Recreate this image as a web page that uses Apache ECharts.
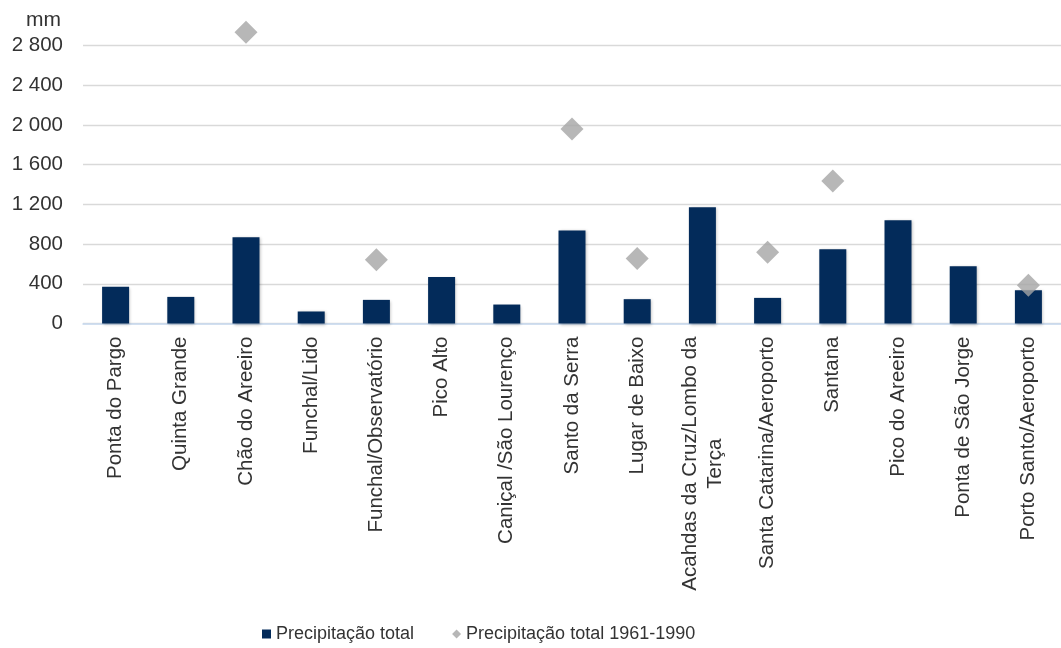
<!DOCTYPE html>
<html>
<head>
<meta charset="utf-8">
<script src="https://cdn.jsdelivr.net/npm/echarts@6/dist/echarts.min.js"></script>
<style>
  html, body { margin: 0; padding: 0; background: #fff; }
  #echarts { width: 1061px; height: 648px; }
</style>
</head>
<body>
<div id="echarts"></div>
<script>
// estações
const categories = [
  'Ponta do Pargo', 'Quinta Grande', 'Chão do Areeiro', 'Funchal/Lido',
  'Funchal/Observatório', 'Pico Alto', 'Caniçal /São Lourenço', 'Santo da Serra',
  'Lugar de Baixo', 'Acahdas da Cruz/Lombo da\nTerça', 'Santa Catarina/Aeroporto',
  'Santana', 'Pico do Areeiro', 'Ponta de São Jorge', 'Porto Santo/Aeroporto'
]
// mm
const precipTotal = [370, 268, 869, 121, 238, 469, 191, 937, 245, 1171, 258, 748, 1040, 577, 335]
const precipNormal = [null, null, 2934, null, 641, null, null, 1960, 655, null, 718, 1436, null, null, 386]
const yTicks = [0, 400, 800, 1200, 1600, 2000, 2400, 2800]

const FONT = '"Liberation Sans", Arial, sans-serif'
const TEXT = '#333333'
const LABEL_SIZE = 20.5

const fmtThousands = (v) => String(v).replace(/\B(?=(\d{3})+(?!\d))/g, ' ')

const chart = echarts.init(document.querySelector('#echarts'))

chart.setOption({
  animation: false,
  textStyle: { fontFamily: FONT },
  title: {
    text: 'mm',
    left: 21,
    top: 5,
    textStyle: { fontFamily: FONT, fontSize: 21, fontWeight: 'normal', color: TEXT }
  },
  grid: { left: 83, top: 45.5, width: 990, bottom: 324.5, containLabel: false },
  legend: {
    left: 257,
    top: 620,
    itemWidth: 9,
    itemHeight: 9,
    itemGap: 38,
    textStyle: { fontFamily: FONT, fontSize: 18, color: TEXT },
    data: [
      { name: 'Precipitação total', icon: 'rect' },
      { name: 'Precipitação total 1961-1990', icon: 'diamond' }
    ]
  },
  xAxis: {
    type: 'category',
    data: categories,
    axisLine: { lineStyle: { color: '#c6d9f0', width: 1.5 } },
    axisTick: { lineStyle: { color: '#c6d9f0', width: 1.5 }, length: 5 },
    axisLabel: {
      interval: 0,
      rotate: 90,
      margin: 13,
      fontSize: LABEL_SIZE,
      lineHeight: 25,
      color: TEXT,
      fontFamily: FONT,
      formatter: (v) => v.indexOf('\n') < 0 ? v : v.split('\n').map(l => '{c|' + l + '}').join('\n'),
      rich: { c: { align: 'center', fontSize: LABEL_SIZE, lineHeight: 25, color: TEXT, fontFamily: FONT } }
    }
  },
  yAxis: {
    type: 'value',
    min: yTicks[0],
    max: yTicks[yTicks.length - 1],
    interval: 400,
    axisLine: { show: false },
    axisTick: { show: false },
    splitLine: { lineStyle: { color: '#d9d9d9', width: 1.3 } },
    axisLabel: { margin: 20, fontSize: LABEL_SIZE, color: TEXT, fontFamily: FONT, formatter: fmtThousands }
  },
  series: [
    {
      name: 'Precipitação total',
      type: 'bar',
      data: precipTotal,
      barWidth: 27,
      itemStyle: {
        color: '#032b5a',
        shadowColor: 'rgba(0,0,0,0.25)',
        shadowBlur: 3,
        shadowOffsetX: 1,
        shadowOffsetY: 1
      }
    },
    {
      name: 'Precipitação total 1961-1990',
      type: 'scatter',
      data: precipNormal,
      symbol: 'diamond',
      symbolSize: 23,
      clip: false,
      itemStyle: { color: '#a5a5a5' },
      z: 3
    }
  ]
})
</script>
</body>
</html>
